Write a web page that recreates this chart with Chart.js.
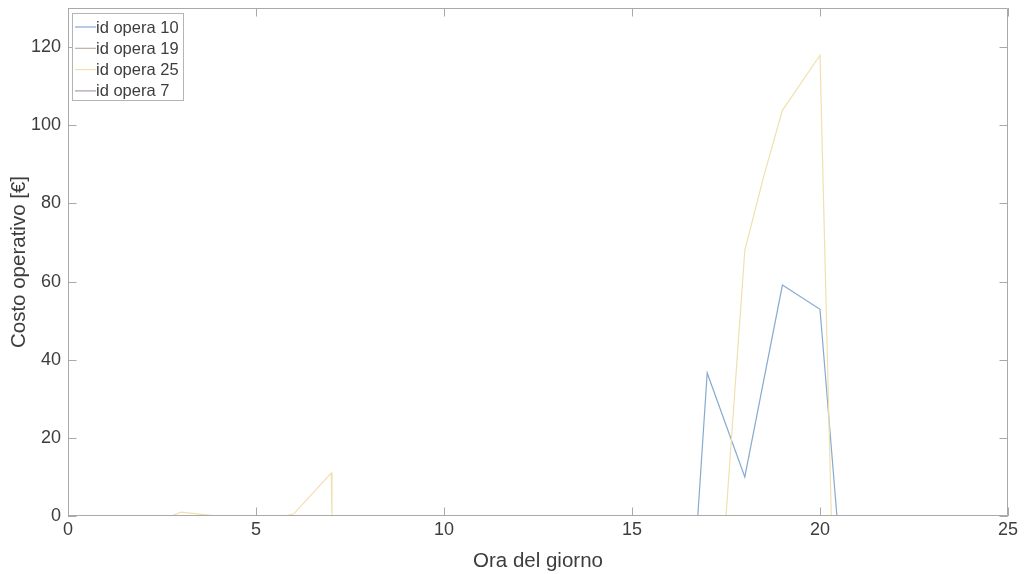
<!DOCTYPE html>
<html>
<head>
<meta charset="utf-8">
<script src="https://cdn.jsdelivr.net/npm/chart.js@4/dist/chart.umd.min.js"></script>
<style>
  html, body { margin: 0; padding: 0; background: #fff; }
  #wrap { width: 1029px; height: 574px; position: relative; }
</style>
</head>
<body>
<div id="wrap"><canvas id="c" width="1029" height="574"></canvas></div>
<script>
// Hour of day (x) and operating cost in euro (y) for each job id
const hours10 = [1, 16.75, 17, 18, 19, 20, 20.45, 24];
const cost10  = [0, 0, 36.6, 10, 59.1, 52.9, 0, 0];

const hours19 = [1, 24];
const cost19  = [0, 0];

const hours25 = [1, 2.75, 3, 3.75, 4, 5.75, 6, 7, 7.02, 17.5, 18, 18.5, 19, 20, 20.3, 24];
const cost25  = [0, 0, 1, 0.2, 0, 0, 0.5, 11, 0, 0, 68, 86.8, 103.8, 117.9, 0, 0];

const hours7 = [1, 24];
const cost7  = [0, 0];

const seriesLabels = ['id opera 10', 'id opera 19', 'id opera 25', 'id opera 7'];
const xTicks = [0, 5, 10, 15, 20, 25];
const yTicks = [0, 20, 40, 60, 80, 100, 120];

const colors = ['#86abcf', '#c6aa9c', '#f1dfae', '#ab9cae'];
const axisGray = '#a9a9a9';
const textColor = '#3d3d3d';
const FONT = "'Liberation Sans', Arial, sans-serif";

function pts(xs, ys) { return xs.map((x, i) => ({ x: x, y: ys[i] })); }

const datasets = [
  [hours10, cost10], [hours19, cost19], [hours25, cost25], [hours7, cost7]
].map((pair, i) => ({
  label: seriesLabels[i],
  data: pts(pair[0], pair[1]),
  borderColor: colors[i],
  backgroundColor: colors[i],
  borderWidth: 1.2,
  pointRadius: 0,
  showLine: true,
  tension: 0,
  order: seriesLabels.length - i
}));

// Box outline, inward tick marks and the in-plot legend
const boxPlugin = {
  id: 'boxPlugin',
  afterDatasetsDraw(chart) {
    const ctx = chart.ctx;
    const a = chart.chartArea;
    const xs = chart.scales.x, ys = chart.scales.y;
    const tl = 8.5;
    ctx.save();
    ctx.strokeStyle = axisGray;
    ctx.lineWidth = 1;
    ctx.beginPath();
    ctx.rect(a.left + 0.5, a.top + 0.5, a.right - a.left - 1, a.bottom - a.top - 1);
    ctx.stroke();
    ctx.beginPath();
    xTicks.forEach(v => {
      const px = Math.round(xs.getPixelForValue(v)) + 0.5;
      ctx.moveTo(px, a.bottom); ctx.lineTo(px, a.bottom - tl);
      ctx.moveTo(px, a.top); ctx.lineTo(px, a.top + tl);
    });
    yTicks.forEach(v => {
      const py = Math.round(ys.getPixelForValue(v)) + 0.5;
      ctx.moveTo(a.left, py); ctx.lineTo(a.left + tl, py);
      ctx.moveTo(a.right, py); ctx.lineTo(a.right - tl, py);
    });
    ctx.stroke();

    // legend
    const lx = 72, ly = 13, lw = 111, lh = 87;
    ctx.fillStyle = '#fff';
    ctx.fillRect(lx, ly, lw, lh);
    ctx.strokeStyle = '#b4b4b4';
    ctx.strokeRect(lx + 0.5, ly + 0.5, lw, lh);
    ctx.font = '16.5px ' + FONT;
    ctx.textBaseline = 'middle';
    ctx.textAlign = 'left';
    chart.data.datasets.forEach((ds, i) => {
      const y = 27 + i * 21.3;
      ctx.strokeStyle = ds.borderColor;
      ctx.lineWidth = 1.2;
      ctx.beginPath();
      ctx.moveTo(lx + 3, y); ctx.lineTo(lx + 24, y);
      ctx.stroke();
      ctx.fillStyle = textColor;
      ctx.fillText(ds.label, lx + 24, y + 1);
    });
    ctx.restore();
  }
};

new Chart(document.getElementById('c'), {
  type: 'scatter',
  data: { datasets: datasets },
  plugins: [boxPlugin],
  options: {
    responsive: false,
    animation: false,
    devicePixelRatio: 1,
    layout: { padding: { top: 8, right: 21, left: 0, bottom: 0 } },
    plugins: { legend: { display: false }, tooltip: { enabled: false } },
    scales: {
      x: {
        type: 'linear', min: 0, max: 25,
        afterBuildTicks: s => { s.ticks = xTicks.map(v => ({ value: v })); },
        afterFit: s => { s.height = 58; },
        ticks: { color: textColor, font: { family: FONT, size: 18 }, padding: 3, maxRotation: 0 },
        grid: { display: false, drawTicks: false },
        border: { display: false },
        title: { display: true, text: 'Ora del giorno', color: textColor,
                 font: { family: FONT, size: 20.5 }, padding: { top: 3, bottom: 0 } }
      },
      y: {
        type: 'linear', min: 0, max: 130,
        afterBuildTicks: s => { s.ticks = yTicks.map(v => ({ value: v })); },
        afterFit: s => { s.width = 68; s.paddingTop = 0; },
        ticks: { color: textColor, font: { family: FONT, size: 18 }, padding: 7 },
        grid: { display: false, drawTicks: false },
        border: { display: false },
        title: { display: true, text: 'Costo operativo [€]', color: textColor,
                 font: { family: FONT, size: 20.5 }, padding: { top: 7, bottom: 0 } }
      }
    }
  }
});
</script>
</body>
</html>
